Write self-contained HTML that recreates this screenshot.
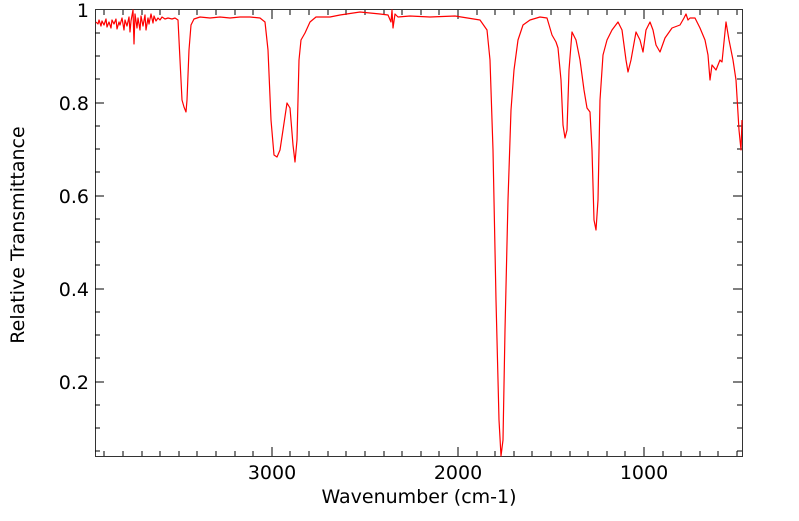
<!DOCTYPE html>
<html><head><meta charset="utf-8"><style>
body{margin:0;background:#fff;width:799px;height:516px;overflow:hidden}
text{font-family:"DejaVu Sans","Liberation Sans",sans-serif;fill:#000}
</style></head><body>
<svg width="799" height="516" xmlns="http://www.w3.org/2000/svg">
<g stroke="#000" stroke-width="1" fill="none">
<rect x="95.5" y="9.5" width="647" height="447" stroke="#333"/>
<path d="M272 456v-9M458 456v-9M644 456v-9M272 10v9M458 10v9M644 10v9"/>
<path d="M104 456v-5M123 456v-5M142 456v-5M160 456v-5M179 456v-5M197 456v-5M216 456v-5M235 456v-5M253 456v-5M290 456v-5M309 456v-5M328 456v-5M346 456v-5M365 456v-5M384 456v-5M402 456v-5M421 456v-5M439 456v-5M477 456v-5M495 456v-5M514 456v-5M532 456v-5M551 456v-5M570 456v-5M588 456v-5M607 456v-5M625 456v-5M663 456v-5M681 456v-5M700 456v-5M718 456v-5M737 456v-5"/>
<path d="M104 10v5M123 10v5M142 10v5M160 10v5M179 10v5M197 10v5M216 10v5M235 10v5M253 10v5M290 10v5M309 10v5M328 10v5M346 10v5M365 10v5M384 10v5M402 10v5M421 10v5M439 10v5M477 10v5M495 10v5M514 10v5M532 10v5M551 10v5M570 10v5M588 10v5M607 10v5M625 10v5M663 10v5M681 10v5M700 10v5M718 10v5M737 10v5"/>
<path d="M95 103h9M95 196h9M95 289h9M95 382h9M742 103h-9M742 196h-9M742 289h-9M742 382h-9"/>
<path d="M95 33h5M95 56h5M95 79h5M95 126h5M95 149h5M95 172h5M95 219h5M95 242h5M95 265h5M95 312h5M95 335h5M95 358h5M95 405h5M95 428h5M95 451h5M742 33h-5M742 56h-5M742 79h-5M742 126h-5M742 149h-5M742 172h-5M742 219h-5M742 242h-5M742 265h-5M742 312h-5M742 335h-5M742 358h-5M742 405h-5M742 428h-5M742 451h-5"/>
</g>
<g font-size="19">
<text x="89" y="17" text-anchor="end">1</text>
<text x="89" y="110" text-anchor="end">0.8</text>
<text x="89" y="203" text-anchor="end">0.6</text>
<text x="89" y="296" text-anchor="end">0.4</text>
<text x="89" y="389" text-anchor="end">0.2</text>
<text x="272" y="479" text-anchor="middle">3000</text>
<text x="458" y="479" text-anchor="middle">2000</text>
<text x="644" y="479" text-anchor="middle">1000</text>
<text x="419" y="503" text-anchor="middle">Wavenumber (cm-1)</text>
<text transform="translate(24,235) rotate(-90)" text-anchor="middle">Relative Transmittance</text>
</g>
<path fill="none" stroke="#f00" stroke-width="1.2" stroke-linejoin="round" d="M96 22 L98 24 L99 20 L101 26 L102 21 L104 25 L106 19 L107 27 L109 22 L111 28 L112 20 L114 24 L116 19 L117 29 L119 22 L120 25 L122 18 L124 30 L125 20 L127 26 L129 17 L130 32 L131 21 L133 10 L134 44 L135 14 L137 28 L138 18 L140 30 L141 16 L143 26 L145 15 L146 30 L148 18 L149 24 L151 14 L153 23 L154 16 L156 21 L158 18 L160 20 L162 17 L165 19 L168 18 L172 19 L175 18 L178 20 L180 60 L182 100 L184 107 L186 112 L187 100 L189 50 L191 25 L194 19 L200 17 L210 18 L220 17 L230 18 L240 17 L250 17 L260 18 L265 22 L268 50 L271 120 L274 155 L277 157 L280 150 L283 130 L287 103 L290 108 L293 145 L295 162 L297 140 L299 60 L301 40 L305 33 L310 22 L316 17 L330 17 L340 15 L360 12 L380 14 L388 15 L391 22 L392 10 L393 28 L395 14 L398 17 L410 16 L430 17 L455 16 L480 20 L487 30 L490 60 L493 150 L496 300 L499 420 L501 456 L503 440 L505 330 L508 200 L511 110 L514 70 L518 40 L523 25 L530 20 L540 17 L547 18 L552 35 L556 42 L558 48 L561 80 L563 125 L565 138 L567 130 L569 70 L572 32 L576 40 L580 60 L584 90 L587 108 L590 112 L592 150 L594 220 L596 230 L598 200 L600 100 L603 55 L607 40 L612 30 L618 22 L622 30 L626 60 L628 72 L631 60 L636 32 L640 40 L643 52 L646 30 L650 22 L653 30 L656 45 L660 52 L665 38 L672 28 L680 25 L684 18 L686 14 L688 20 L690 18 L695 18 L700 28 L705 40 L708 55 L710 80 L712 65 L716 70 L720 60 L722 62 L726 22 L729 40 L733 60 L736 80 L739 130 L741 150 L742 120"/>
</svg>
</body></html>
